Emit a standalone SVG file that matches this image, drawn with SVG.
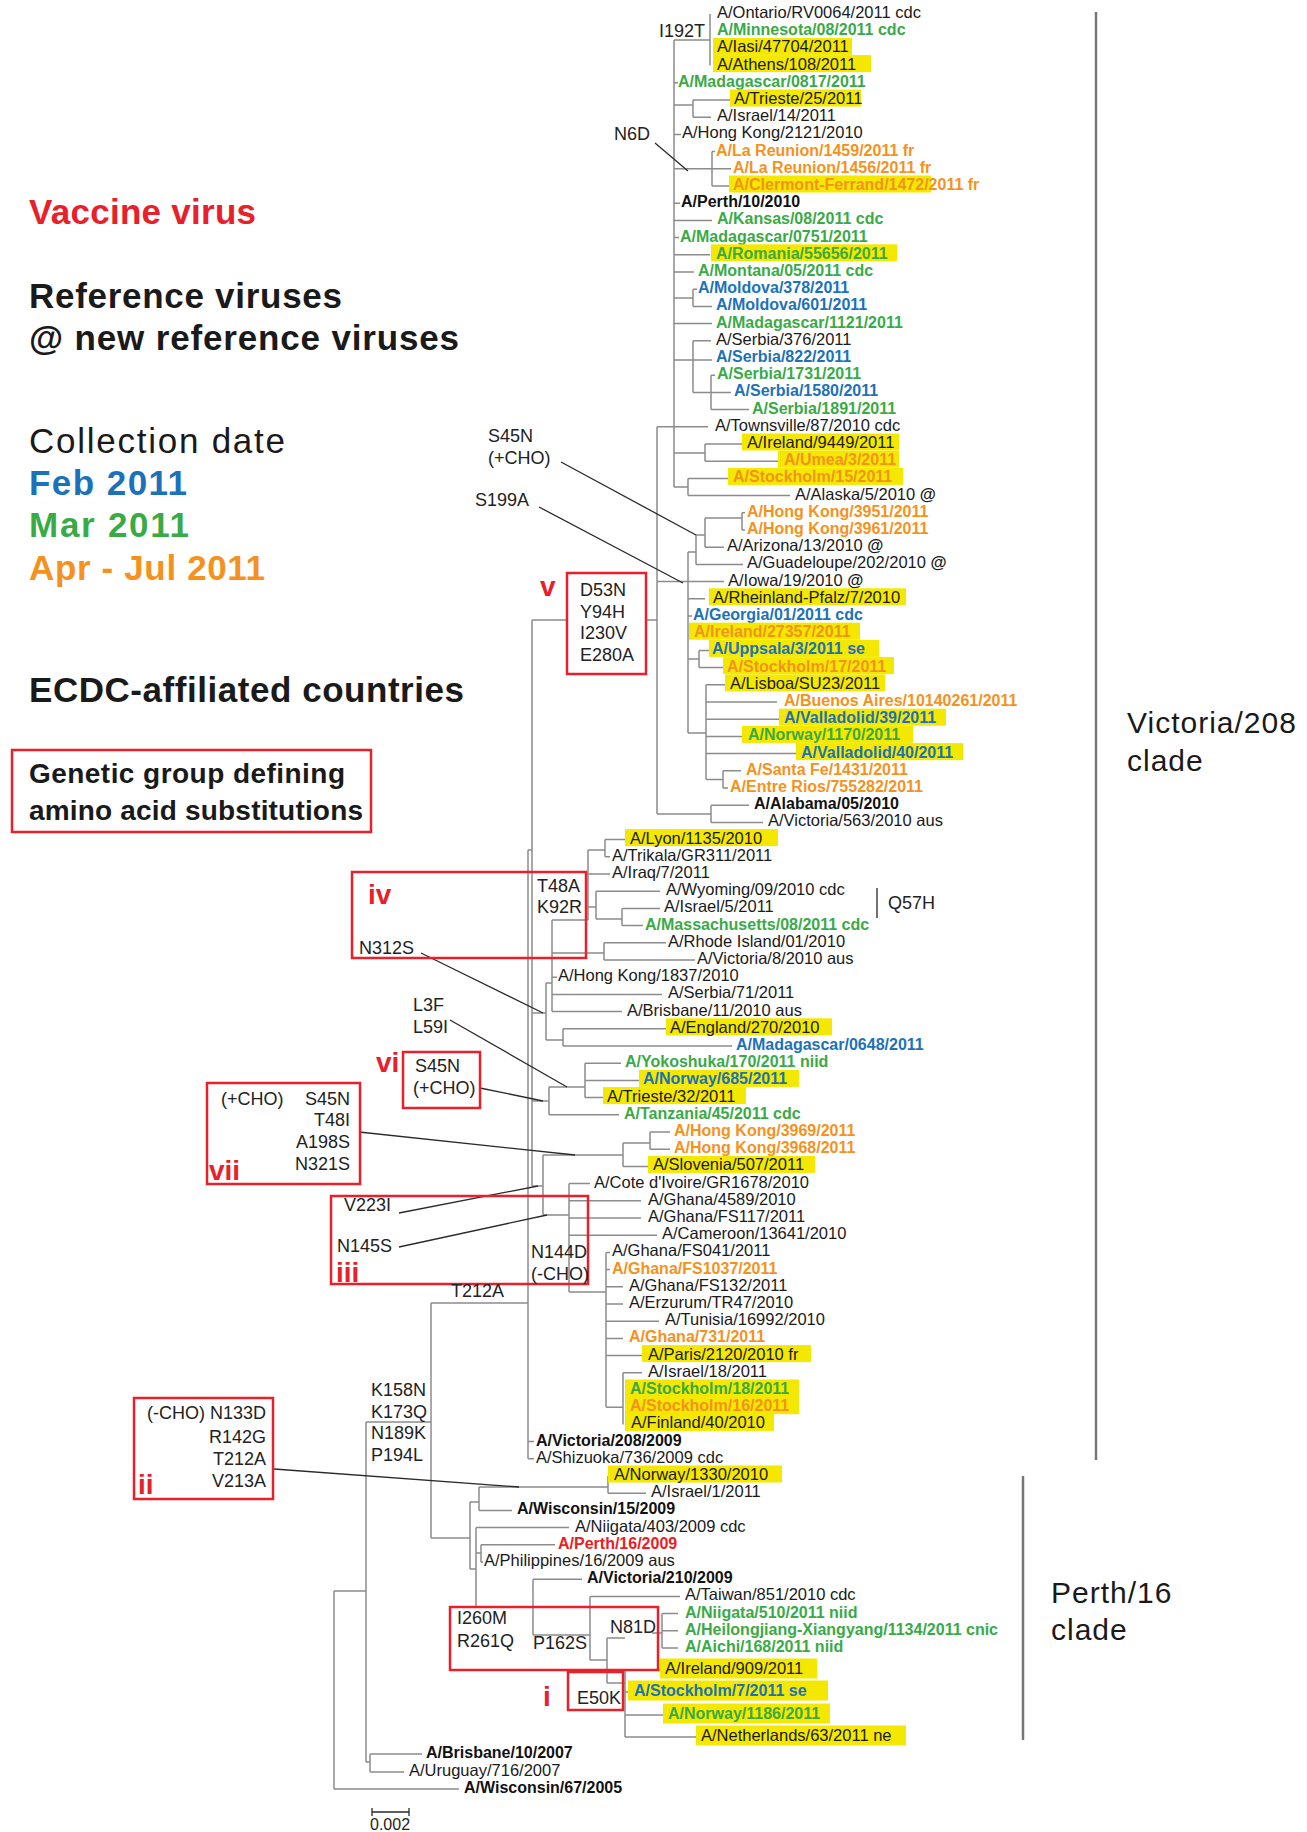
<svg xmlns="http://www.w3.org/2000/svg" width="1307" height="1832" viewBox="0 0 1307 1832">
<style>
text{font-family:"Liberation Sans",Arial,sans-serif}
.t{font-size:16.5px;fill:#1a1a1a}
.kb{font-size:16px;font-weight:bold;fill:#111}
.g{font-size:16px;font-weight:bold;fill:#3aaa47}
.b{font-size:16px;font-weight:bold;fill:#1c72b8}
.o{font-size:16px;font-weight:bold;fill:#f5921e}
.rb{font-size:16px;font-weight:bold;fill:#ec1c24}
.hl{fill:#f4e800}
.br{stroke:#8c8c8c;stroke-width:1.5;fill:none}
.pt{stroke:#2a2a2a;stroke-width:1.3;fill:none}
.box{fill:none;stroke:#e8202a;stroke-width:2.5}
.m{font-size:18px;fill:#222}
.rn{font-size:28px;font-weight:bold;fill:#e8202a}
.lg{font-size:35px;font-weight:bold}
.cl{font-size:30px;fill:#1a1a1a;letter-spacing:1px}
.bar{stroke:#777;stroke-width:2.5}
</style>
<g id="legend">
<text class="lg" x="29" y="224" fill="#e8202a" textLength="227">Vaccine virus</text>
<text class="lg" x="29" y="308" fill="#1a1a1a" textLength="313">Reference viruses</text>
<text class="lg" x="29" y="350" fill="#1a1a1a" textLength="430">@ new reference viruses</text>
<text x="29" y="453" font-size="35" fill="#1a1a1a" textLength="256">Collection date</text>
<text class="lg" x="29" y="495" fill="#1c72b8" textLength="158">Feb 2011</text>
<text class="lg" x="29" y="537" fill="#3aaa47" textLength="160">Mar 2011</text>
<text class="lg" x="29" y="580" fill="#f5921e" textLength="236">Apr - Jul 2011</text>
<text class="lg" x="29" y="702" fill="#1a1a1a" textLength="435">ECDC-affiliated countries</text>
<rect class="box" x="12" y="750" width="359" height="82"/>
<text x="29" y="783" font-size="28" font-weight="bold" fill="#1a1a1a" textLength="316">Genetic group defining</text>
<text x="29" y="820" font-size="28" font-weight="bold" fill="#1a1a1a" textLength="334">amino acid substitutions</text>
</g>
<g id="branches">
<path class="br" d="M674,40 V487 M674,40 H710 M710,14 V65.6 M674,82.8 H678 M674,105 H693 M693,100 V117.2 M693,100 H730 M693,117.2 H711 M674,134.4 H681 M674,168.8 H731 M712,151.6 V186 M712,151.6 H715 M712,186 H729 M674,203.2 H680 M674,220.4 H712 M674,237.6 H679 M674,254.8 H710 M674,272 H694 M674,298 H693 M693,289.2 V306.4 M693,289.2 H697 M693,306.4 H712 M674,323.6 H712 M674,360 H712 M693,340.8 V392.4 M693,340.8 H711 M693,392.4 H731 M711,375.2 V409.6 M711,375.2 H715 M711,409.6 H749 M657,426.8 H708 M674,453 H705 M705,444 V461.2 M705,444 H742 M705,461.2 H778 M674,487 H688 M688,478.4 V495.6 M688,478.4 H728 M688,495.6 H790"/>
<path class="br" d="M657,581.6 H724 M688,552 V733 M688,552 H696 M696,535 V564.4 M696,535 H705 M705,518 V547.2 M705,518 H742 M742,512.8 V530 M742,512.8 H745 M742,530 H745 M705,547.2 H724 M696,564.4 H743 M688,598.8 H705 M688,616 H692 M688,659 H699 M699,650.4 V667.6 M699,650.4 H709 M699,667.6 H723 M688,733 H706 M706,684.8 V779.4 M706,684.8 H725 M706,702 H777 M706,719.2 H779 M706,736.4 H742 M706,753.6 H796 M706,779.4 H723 M723,770.8 V788 M723,770.8 H741 M723,788 H728"/>
<path class="br" d="M657,426.8 V814 M657,814 H711 M711,805.2 V822.4 M711,805.2 H749 M711,822.4 H763 M532,620 H657"/>
<path class="br" d="M532,620 V1186 M528,850 V1458.8 M528,850 H532 M528,1441.6 H534 M528,1458.8 H534"/>
<path class="br" d="M552,920 H588 M588,850 V920 M588,850 H605 M605,839.6 V856.8 M605,839.6 H625 M605,856.8 H610 M588,874 H610 M588,907 H596 M596,891.2 V919 M596,891.2 H660 M596,919 H622 M622,908.4 V925.6 M622,908.4 H660 M622,925.6 H643 M552,920 V1011.6 M552,953 H604 M604,942.8 V960 M604,942.8 H666 M604,960 H695 M552,977.2 H557 M552,994.4 H662 M552,1011.6 H622 M546,983 H552 M546,983 V1040 M546,1040 H563 M563,1028.8 V1046 M563,1028.8 H666 M563,1046 H732 M532,1013 H546"/>
<path class="br" d="M532,1101 H549 M549,1087 V1114.8 M549,1087 H585 M585,1063.2 V1097.6 M585,1063.2 H621 M585,1080.4 H639 M585,1097.6 H603 M549,1114.8 H619"/>
<path class="br" d="M532,1186 H543 M543,1155 V1215 M543,1155 H623 M623,1143 V1166.4 M623,1143 H650 M650,1132 V1149.2 M650,1132 H670 M650,1149.2 H670 M623,1166.4 H648 M543,1215 H569 M569,1183.6 V1292 M569,1183.6 H590 M569,1200.8 H641 M569,1218 H641 M569,1235.2 H657 M569,1292 H606"/>
<path class="br" d="M606,1252.4 V1407.2 M606,1252.4 H610 M606,1269.6 H610 M606,1286.8 H623 M606,1304 H623 M606,1321.2 H659 M606,1338.4 H623 M606,1355.6 H642 M606,1407.2 H623 M623,1372.8 V1424.4 M623,1372.8 H642"/>
<path class="br" d="M431,1303 H528 M431,1303 V1538 M366,1422 H431 M366,1422 V1762 M366,1762 H370 M370,1754 V1772 M370,1754 H422 M370,1772 H404 M334,1591 H366 M334,1591 V1789 M334,1789 H459"/>
<path class="br" d="M431,1538 H470 M470,1502 V1569 M470,1502 H479 M479,1487 V1510.4 M479,1487 H608 M608,1476 V1493.2 M608,1493.2 H646 M479,1510.4 H512 M470,1569 H476 M476,1527.6 V1607 M476,1527.6 H569 M476,1553 H481 M481,1544.8 V1562 M481,1544.8 H555 M481,1562 H483 M476,1607 H533"/>
<path class="br" d="M533,1579.2 V1635 M533,1579.2 H582 M533,1635 H590 M590,1596.4 V1660 M590,1596.4 H680 M652,1633 H662 M662,1613.6 V1648 M662,1613.6 H678 M662,1630.8 H678 M662,1648 H678 M590,1660 H607 M607,1638 V1683 M607,1638 H625 M607,1683 H625 M625,1670 V1737 M625,1670 H660 M625,1692 H628 M625,1715 H663 M625,1737 H696"/>
<path class="pt" d="M655,143 L688,171 M561,462 L696,535 M539,507 L683,583 M421,953 L543,1013 M450,1020 L567,1087 M480,1088 L543,1101 M359,1132 L575,1155 M399,1213 L538,1186 M399,1247 L547,1215 M274,1469 L519,1487 M877,888 V918"/>
<path class="pt" d="M372,1812 H409 M372,1808 V1816 M409,1808 V1816"/>
</g>
<g id="clade-bars">
<path class="bar" d="M1096,12 V1460 M1023,1476 V1740"/>
<text class="cl" x="1127" y="733">Victoria/208</text>
<text class="cl" x="1127" y="771">clade</text>
<text class="cl" x="1051" y="1603">Perth/16</text>
<text class="cl" x="1051" y="1640">clade</text>
</g>
<g id="mutations">
<text class="m" x="659" y="37">I192T</text>
<text class="m" x="614" y="140">N6D</text>
<text class="m" x="488" y="442">S45N</text>
<text class="m" x="488" y="464">(+CHO)</text>
<text class="m" x="475" y="506">S199A</text>
<g id="grp-v"><rect x="567" y="573" width="79" height="101" fill="#fff" stroke="#e8202a" stroke-width="2.5"/>
<text class="rn" x="540" y="596">v</text>
<text class="m" x="580" y="596">D53N</text><text class="m" x="580" y="618">Y94H</text><text class="m" x="580" y="639">I230V</text><text class="m" x="580" y="661">E280A</text></g>
<g id="grp-iv"><rect class="box" x="352" y="872" width="234" height="86"/>
<text class="rn" x="368" y="904">iv</text>
<text class="m" x="537" y="892">T48A</text><text class="m" x="537" y="913">K92R</text><text class="m" x="359" y="954">N312S</text></g>
<text class="m" x="888" y="909">Q57H</text>
<text class="m" x="413" y="1011">L3F</text><text class="m" x="413" y="1033">L59I</text>
<g id="grp-vi"><rect class="box" x="403" y="1052" width="77" height="56"/>
<text class="rn" x="376" y="1072">vi</text>
<text class="m" x="415" y="1072">S45N</text><text class="m" x="413" y="1094">(+CHO)</text></g>
<g id="grp-vii"><rect class="box" x="207" y="1083" width="153" height="101"/>
<text class="rn" x="209" y="1180">vii</text>
<text class="m" x="221" y="1105">(+CHO)</text>
<text class="m" x="350" y="1105" text-anchor="end">S45N</text><text class="m" x="350" y="1126" text-anchor="end">T48I</text><text class="m" x="350" y="1148" text-anchor="end">A198S</text><text class="m" x="350" y="1170" text-anchor="end">N321S</text></g>
<g id="grp-iii"><rect class="box" x="331" y="1196" width="257" height="88"/>
<text class="rn" x="336" y="1282" font-size="26">iii</text>
<text class="m" x="344" y="1211">V223I</text><text class="m" x="337" y="1252">N145S</text>
<text class="m" x="531" y="1258">N144D</text><text class="m" x="531" y="1280">(-CHO)</text></g>
<text class="m" x="451" y="1297">T212A</text>
<text class="m" x="371" y="1396">K158N</text><text class="m" x="371" y="1418">K173Q</text><text class="m" x="371" y="1439">N189K</text><text class="m" x="371" y="1461">P194L</text>
<g id="grp-ii"><rect class="box" x="134" y="1398" width="139" height="101"/>
<text class="rn" x="138" y="1494">ii</text>
<text class="m" x="147" y="1419">(-CHO) N133D</text>
<text class="m" x="266" y="1443" text-anchor="end">R142G</text><text class="m" x="266" y="1465" text-anchor="end">T212A</text><text class="m" x="266" y="1487" text-anchor="end">V213A</text></g>
<g id="grp-I260M"><rect class="box" x="450" y="1607" width="208" height="63"/>
<text class="m" x="457" y="1624">I260M</text><text class="m" x="457" y="1647">R261Q</text><text class="m" x="533" y="1649">P162S</text><text class="m" x="610" y="1633">N81D</text></g>
<g id="grp-i"><rect class="box" x="568" y="1672" width="55" height="38"/>
<text class="rn" x="543" y="1706">i</text>
<text class="m" x="577" y="1704">E50K</text></g>
<text x="370" y="1830" font-size="16" fill="#222">0.002</text>
</g>
<g id="taxa">
<g id="tx001"><text class="t" x="717" y="18">A/Ontario/RV0064/2011 cdc</text></g>
<g id="tx002"><text class="g" x="717" y="35.2">A/Minnesota/08/2011 cdc</text></g>
<g id="tx003"><rect class="hl" x="713" y="37.9" width="139" height="17"/><text class="t" x="717" y="52.4">A/Iasi/47704/2011</text></g>
<g id="tx004"><rect class="hl" x="713" y="55.1" width="158" height="17"/><text class="t" x="717" y="69.6">A/Athens/108/2011</text></g>
<g id="tx005"><text class="g" x="678" y="86.8">A/Madagascar/0817/2011</text></g>
<g id="tx006"><rect class="hl" x="730" y="89.5" width="131" height="17"/><text class="t" x="734" y="104">A/Trieste/25/2011</text></g>
<g id="tx007"><text class="t" x="717" y="121.2">A/Israel/14/2011</text></g>
<g id="tx008"><text class="t" x="682" y="138.4">A/Hong Kong/2121/2010</text></g>
<g id="tx009"><text class="o" x="716" y="155.6">A/La Reunion/1459/2011 fr</text></g>
<g id="tx010"><text class="o" x="733" y="172.8">A/La Reunion/1456/2011 fr</text></g>
<g id="tx011"><rect class="hl" x="729" y="175.5" width="202" height="17"/><text class="o" x="733" y="190">A/Clermont-Ferrand/1472/2011 fr</text></g>
<g id="tx012"><text class="kb" x="681" y="207.2">A/Perth/10/2010</text></g>
<g id="tx013"><text class="g" x="717" y="224.4">A/Kansas/08/2011 cdc</text></g>
<g id="tx014"><text class="g" x="680" y="241.6">A/Madagascar/0751/2011</text></g>
<g id="tx015"><rect class="hl" x="711" y="244.3" width="186" height="17"/><text class="g" x="716" y="258.8">A/Romania/55656/2011</text></g>
<g id="tx016"><text class="g" x="698" y="276">A/Montana/05/2011 cdc</text></g>
<g id="tx017"><text class="b" x="698" y="293.2">A/Moldova/378/2011</text></g>
<g id="tx018"><text class="b" x="716" y="310.4">A/Moldova/601/2011</text></g>
<g id="tx019"><text class="g" x="716" y="327.6">A/Madagascar/1121/2011</text></g>
<g id="tx020"><text class="t" x="716" y="344.8">A/Serbia/376/2011</text></g>
<g id="tx021"><text class="b" x="716" y="362">A/Serbia/822/2011</text></g>
<g id="tx022"><text class="g" x="717" y="379.2">A/Serbia/1731/2011</text></g>
<g id="tx023"><text class="b" x="734" y="396.4">A/Serbia/1580/2011</text></g>
<g id="tx024"><text class="g" x="752" y="413.6">A/Serbia/1891/2011</text></g>
<g id="tx025"><text class="t" x="715" y="430.8">A/Townsville/87/2010 cdc</text></g>
<g id="tx026"><rect class="hl" x="742" y="433.5" width="157" height="17"/><text class="t" x="747" y="448">A/Ireland/9449/2011</text></g>
<g id="tx027"><rect class="hl" x="778" y="450.7" width="121" height="17"/><text class="o" x="784" y="465.2">A/Umea/3/2011</text></g>
<g id="tx028"><rect class="hl" x="728" y="467.9" width="175" height="17"/><text class="o" x="733" y="482.4">A/Stockholm/15/2011</text></g>
<g id="tx029"><text class="t" x="795" y="499.6">A/Alaska/5/2010 <tspan font-weight="bold">@</tspan></text></g>
<g id="tx030"><text class="o" x="747" y="516.8">A/Hong Kong/3951/2011</text></g>
<g id="tx031"><text class="o" x="747" y="534">A/Hong Kong/3961/2011</text></g>
<g id="tx032"><text class="t" x="727" y="551.2">A/Arizona/13/2010 <tspan font-weight="bold">@</tspan></text></g>
<g id="tx033"><text class="t" x="747" y="568.4">A/Guadeloupe/202/2010 <tspan font-weight="bold">@</tspan></text></g>
<g id="tx034"><text class="t" x="728" y="585.6">A/Iowa/19/2010 <tspan font-weight="bold">@</tspan></text></g>
<g id="tx035"><rect class="hl" x="709" y="588.3" width="197" height="17"/><text class="t" x="713" y="602.8">A/Rheinland-Pfalz/7/2010</text></g>
<g id="tx036"><text class="b" x="693" y="620">A/Georgia/01/2011 cdc</text></g>
<g id="tx037"><rect class="hl" x="689" y="622.7" width="171" height="17"/><text class="o" x="694" y="637.2">A/Ireland/27357/2011</text></g>
<g id="tx038"><rect class="hl" x="709" y="639.9" width="170" height="17"/><text class="b" x="712" y="654.4">A/Uppsala/3/2011 se</text></g>
<g id="tx039"><rect class="hl" x="723" y="657.1" width="171" height="17"/><text class="o" x="727" y="671.6">A/Stockholm/17/2011</text></g>
<g id="tx040"><rect class="hl" x="725" y="674.3" width="160" height="17"/><text class="t" x="730" y="688.8">A/Lisboa/SU23/2011</text></g>
<g id="tx041"><text class="o" x="784" y="706">A/Buenos Aires/10140261/2011</text></g>
<g id="tx042"><rect class="hl" x="779" y="708.7" width="167" height="17"/><text class="b" x="784" y="723.2">A/Valladolid/39/2011</text></g>
<g id="tx043"><rect class="hl" x="742" y="725.9" width="171" height="17"/><text class="g" x="748" y="740.4">A/Norway/1170/2011</text></g>
<g id="tx044"><rect class="hl" x="796" y="743.1" width="167" height="17"/><text class="b" x="801" y="757.6">A/Valladolid/40/2011</text></g>
<g id="tx045"><text class="o" x="746" y="774.8">A/Santa Fe/1431/2011</text></g>
<g id="tx046"><text class="o" x="730" y="792">A/Entre Rios/755282/2011</text></g>
<g id="tx047"><text class="kb" x="754" y="809.2">A/Alabama/05/2010</text></g>
<g id="tx048"><text class="t" x="768" y="826.4">A/Victoria/563/2010 aus</text></g>
<g id="tx049"><rect class="hl" x="625" y="829.1" width="153" height="17"/><text class="t" x="630" y="843.6">A/Lyon/1135/2010</text></g>
<g id="tx050"><text class="t" x="612" y="860.8">A/Trikala/GR311/2011</text></g>
<g id="tx051"><text class="t" x="612" y="878">A/Iraq/7/2011</text></g>
<g id="tx052"><text class="t" x="666" y="895.2">A/Wyoming/09/2010 cdc</text></g>
<g id="tx053"><text class="t" x="664" y="912.4">A/Israel/5/2011</text></g>
<g id="tx054"><text class="g" x="645" y="929.6">A/Massachusetts/08/2011 cdc</text></g>
<g id="tx055"><text class="t" x="668" y="946.8">A/Rhode Island/01/2010</text></g>
<g id="tx056"><text class="t" x="697" y="964">A/Victoria/8/2010 aus</text></g>
<g id="tx057"><text class="t" x="558" y="981.2">A/Hong Kong/1837/2010</text></g>
<g id="tx058"><text class="t" x="668" y="998.4">A/Serbia/71/2011</text></g>
<g id="tx059"><text class="t" x="627" y="1015.6">A/Brisbane/11/2010 aus</text></g>
<g id="tx060"><rect class="hl" x="666" y="1018.3" width="166" height="17"/><text class="t" x="670" y="1032.8">A/England/270/2010</text></g>
<g id="tx061"><text class="b" x="736" y="1050">A/Madagascar/0648/2011</text></g>
<g id="tx062"><text class="g" x="625" y="1067.2">A/Yokoshuka/170/2011 niid</text></g>
<g id="tx063"><rect class="hl" x="639" y="1069.9" width="160" height="17"/><text class="b" x="643" y="1084.4">A/Norway/685/2011</text></g>
<g id="tx064"><rect class="hl" x="603" y="1087.1" width="143" height="17"/><text class="t" x="607" y="1101.6">A/Trieste/32/2011</text></g>
<g id="tx065"><text class="g" x="624" y="1118.8">A/Tanzania/45/2011 cdc</text></g>
<g id="tx066"><text class="o" x="674" y="1136">A/Hong Kong/3969/2011</text></g>
<g id="tx067"><text class="o" x="674" y="1153.2">A/Hong Kong/3968/2011</text></g>
<g id="tx068"><rect class="hl" x="648" y="1155.9" width="167" height="17"/><text class="t" x="653" y="1170.4">A/Slovenia/507/2011</text></g>
<g id="tx069"><text class="t" x="594" y="1187.6">A/Cote d'Ivoire/GR1678/2010</text></g>
<g id="tx070"><text class="t" x="648" y="1204.8">A/Ghana/4589/2010</text></g>
<g id="tx071"><text class="t" x="648" y="1222">A/Ghana/FS117/2011</text></g>
<g id="tx072"><text class="t" x="662" y="1239.2">A/Cameroon/13641/2010</text></g>
<g id="tx073"><text class="t" x="612" y="1256.4">A/Ghana/FS041/2011</text></g>
<g id="tx074"><text class="o" x="612" y="1273.6">A/Ghana/FS1037/2011</text></g>
<g id="tx075"><text class="t" x="629" y="1290.8">A/Ghana/FS132/2011</text></g>
<g id="tx076"><text class="t" x="629" y="1308">A/Erzurum/TR47/2010</text></g>
<g id="tx077"><text class="t" x="665" y="1325.2">A/Tunisia/16992/2010</text></g>
<g id="tx078"><text class="o" x="629" y="1342.4">A/Ghana/731/2011</text></g>
<g id="tx079"><rect class="hl" x="642" y="1345.1" width="169" height="17"/><text class="t" x="648" y="1359.6">A/Paris/2120/2010 fr</text></g>
<g id="tx080"><text class="t" x="648" y="1376.8">A/Israel/18/2011</text></g>
<g id="tx081"><rect class="hl" x="625" y="1379.5" width="174" height="17.5"/><text class="g" x="630" y="1394">A/Stockholm/18/2011</text></g>
<g id="tx082"><rect class="hl" x="625" y="1396.7" width="174" height="17.5"/><text class="o" x="630" y="1411.2">A/Stockholm/16/2011</text></g>
<g id="tx083"><rect class="hl" x="625" y="1413.9" width="149" height="17"/><text class="t" x="631" y="1428.4">A/Finland/40/2010</text></g>
<g id="tx084"><text class="kb" x="536" y="1445.6">A/Victoria/208/2009</text></g>
<g id="tx085"><text class="t" x="536" y="1462.8">A/Shizuoka/736/2009 cdc</text></g>
<g id="tx086"><rect class="hl" x="608" y="1465.5" width="174" height="17"/><text class="t" x="614" y="1480">A/Norway/1330/2010</text></g>
<g id="tx087"><text class="t" x="651" y="1497.2">A/Israel/1/2011</text></g>
<g id="tx088"><text class="kb" x="517" y="1514.4">A/Wisconsin/15/2009</text></g>
<g id="tx089"><text class="t" x="575" y="1531.6">A/Niigata/403/2009 cdc</text></g>
<g id="tx090"><text class="rb" x="558" y="1548.8">A/Perth/16/2009</text></g>
<g id="tx091"><text class="t" x="484" y="1566">A/Philippines/16/2009 aus</text></g>
<g id="tx092"><text class="kb" x="587" y="1583.2">A/Victoria/210/2009</text></g>
<g id="tx093"><text class="t" x="685" y="1600.4">A/Taiwan/851/2010 cdc</text></g>
<g id="tx094"><text class="g" x="685" y="1617.6">A/Niigata/510/2011 niid</text></g>
<g id="tx095"><text class="g" x="685" y="1634.8">A/Heilongjiang-Xiangyang/1134/2011 cnic</text></g>
<g id="tx096"><text class="g" x="685" y="1652">A/Aichi/168/2011 niid</text></g>
<g id="tx097"><rect class="hl" x="660" y="1658.5" width="157" height="20"/><text class="t" x="665" y="1674">A/Ireland/909/2011</text></g>
<g id="tx098"><rect class="hl" x="628" y="1680.5" width="200" height="20"/><text class="b" x="634" y="1696">A/Stockholm/7/2011 se</text></g>
<g id="tx099"><rect class="hl" x="663" y="1703.5" width="167" height="20"/><text class="g" x="668" y="1719">A/Norway/1186/2011</text></g>
<g id="tx100"><rect class="hl" x="696" y="1725.5" width="210" height="20"/><text class="t" x="701" y="1741">A/Netherlands/63/2011 ne</text></g>
<g id="tx101"><text class="kb" x="426" y="1758">A/Brisbane/10/2007</text></g>
<g id="tx102"><text class="t" x="409" y="1776">A/Uruguay/716/2007</text></g>
<g id="tx103"><text class="kb" x="464" y="1793">A/Wisconsin/67/2005</text></g>
</g>
</svg>
